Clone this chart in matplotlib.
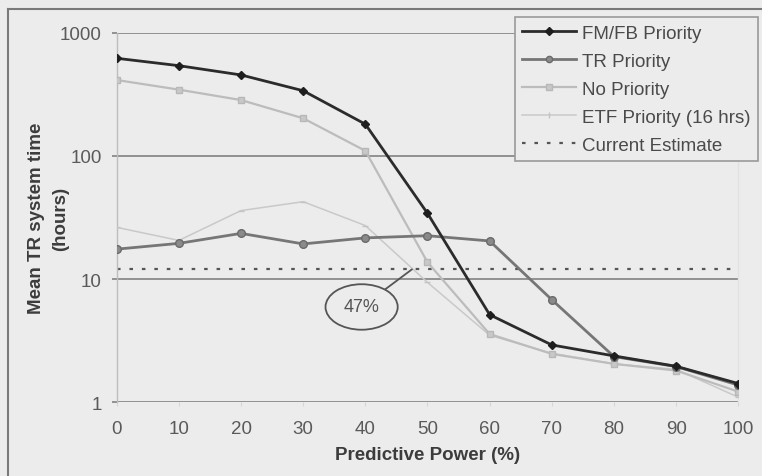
import matplotlib
matplotlib.use("Agg")
import matplotlib.pyplot as plt
from matplotlib.lines import Line2D

# Predictive power levels (%)
power = [0, 10, 20, 30, 40, 50, 60, 70, 80, 90, 100]

# Mean TR system time (hours) for each scheduling rule
fmfb_priority = [620, 540, 454, 338, 181, 34.2, 5.14, 2.92, 2.38, 1.96, 1.42]
tr_priority = [17.5, 19.5, 23.5, 19.3, 21.6, 22.5, 20.4, 6.8, 2.35, 1.95, 1.38]
no_priority = [413, 345, 284, 202, 110, 13.7, 3.58, 2.47, 2.05, 1.81, 1.22]
etf_priority = [26.3, 20.6, 36, 42.5, 27.2, 9.4, 3.5, 2.5, 2.05, 1.85, 1.10]
current_estimate = 12.0
breakeven_power = 47.5

series_labels = ["FM/FB Priority", "TR Priority", "No Priority",
                 "ETF Priority (16 hrs)", "Current Estimate"]
y_ticks = [1, 10, 100, 1000]
y_tick_labels = ["1", "10", "100", "1000"]

bg = "#ececec"
plt.rcParams["font.family"] = ["Liberation Sans", "DejaVu Sans"]

fig = plt.figure(figsize=(7.62, 4.77), dpi=100, facecolor=bg)
ax = fig.add_axes([116.7 / 762, 1 - 403.3 / 477,
                   (738.3 - 116.7) / 762, (403.3 - 33.7) / 477])
ax.set_facecolor(bg)

ax.set_yscale("log")
ax.set_xlim(0, 100)
ax.set_ylim(1, 1000)

# horizontal gridlines at each decade
for yv in y_ticks:
    ax.axhline(yv, color="#8a8a8a", lw=1.3, zorder=1)

ax.plot([0, 100], [current_estimate, current_estimate], color="#555555",
        lw=1.6, dashes=(1.6, 4.0), zorder=2)
ax.plot(power, etf_priority, color="#c9c9c9", lw=1.1, marker="_",
        markersize=5, mec="#c4c4c4", zorder=3)
ax.plot(power, no_priority, color="#bcbcbc", lw=1.6, marker="s",
        markersize=5, mfc="#c8c8c8", mec="#b8b8b8", zorder=4)
ax.plot(power, tr_priority, color="#767676", lw=2.0, marker="o",
        markersize=5.5, mfc="#8a8a8a", mec="#6a6a6a", zorder=5)
ax.plot(power, fmfb_priority, color="#2b2b2b", lw=2.0, marker="D",
        markersize=4.5, mfc="#1e1e1e", mec="#1e1e1e", zorder=6)

ax.annotate("47%", xy=(breakeven_power, current_estimate),
            xytext=(39.4, 5.94), ha="center", va="center",
            fontsize=13, color="#555555",
            bbox=dict(boxstyle="ellipse,pad=0.42", fc="none",
                      ec="#555555", lw=1.3),
            arrowprops=dict(arrowstyle="-", color="#555555", lw=1.3,
                            shrinkA=0, shrinkB=0),
            zorder=7)

ax.set_yticks(y_ticks)
ax.set_yticklabels(y_tick_labels)
ax.yaxis.set_minor_locator(matplotlib.ticker.NullLocator())
ax.set_xticks(power)
ax.tick_params(axis="y", length=3.6, width=1.3, color="#8a8a8a",
               pad=7.2, labelsize=13.5, labelcolor="#5a5a5a")
ax.tick_params(axis="x", length=3, width=0.8, color="#d6d6d6",
               pad=10, labelsize=13.5, labelcolor="#5a5a5a")

for side in ("top", "bottom"):
    ax.spines[side].set_visible(False)
ax.spines["left"].set_color("#bdbdbd")
ax.spines["left"].set_linewidth(1.0)
ax.spines["right"].set_color("#e2e2e2")
ax.spines["right"].set_linewidth(1.0)

ax.set_xlabel("Predictive Power (%)", fontsize=13.5, fontweight="bold",
              color="#3c3c3c")
ax.xaxis.set_label_coords(0.5, -0.118)
ax.set_ylabel("Mean TR system time\n(hours)", fontsize=13.5,
              fontweight="bold", color="#3c3c3c", linespacing=1.55)
ax.yaxis.set_label_coords(-0.077, 0.5)

handles = [
    Line2D([], [], color="#2b2b2b", lw=2.0, marker="D", markersize=4,
           mfc="#1e1e1e", mec="#1e1e1e"),
    Line2D([], [], color="#767676", lw=2.0, marker="o", markersize=4.5,
           mfc="#8a8a8a", mec="#6a6a6a"),
    Line2D([], [], color="#bcbcbc", lw=1.6, marker="s", markersize=4.5,
           mfc="#c8c8c8", mec="#b8b8b8"),
    Line2D([], [], color="#c9c9c9", lw=1.1, marker="|", markersize=5,
           mec="#c4c4c4"),
    Line2D([], [], color="#555555", lw=1.6, dashes=(1.6, 4.0)),
]
leg = fig.legend(handles, series_labels, loc="upper right",
                 bbox_to_anchor=(758 / 762, 1 - 18 / 477),
                 fontsize=13.5, frameon=True, fancybox=False, shadow=False,
                 facecolor=bg, edgecolor="#9a9a9a", framealpha=1,
                 borderpad=0.4, handlelength=2.9, handletextpad=0.3,
                 labelspacing=0.58, borderaxespad=0)
leg.get_frame().set_linewidth(1.2)
for t in leg.get_texts():
    t.set_color("#4a4a4a")

# outer chart frame (left and top edges)
fig.add_artist(Line2D([8 / 762, 8 / 762], [0, 1 - 10 / 477],
                      transform=fig.transFigure, color="#7a7a7a", lw=1.5))
fig.add_artist(Line2D([8 / 762, 1], [1 - 10 / 477, 1 - 10 / 477],
                      transform=fig.transFigure, color="#7a7a7a", lw=1.5))

fig.savefig("out.png", dpi=100, facecolor=bg)
